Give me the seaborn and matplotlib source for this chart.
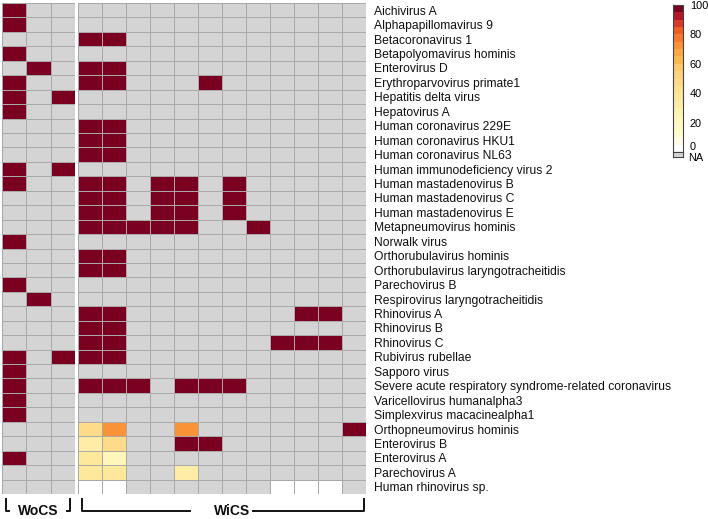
import numpy as np
import pandas as pd
import matplotlib
matplotlib.use("Agg")
import matplotlib.pyplot as plt
import seaborn as sns
from matplotlib.colors import LinearSegmentedColormap

N = np.nan

viruses = [
    "Aichivirus A", "Alphapapillomavirus 9", "Betacoronavirus 1",
    "Betapolyomavirus hominis", "Enterovirus D", "Erythroparvovirus primate1",
    "Hepatitis delta virus", "Hepatovirus A", "Human coronavirus 229E",
    "Human coronavirus HKU1", "Human coronavirus NL63",
    "Human immunodeficiency virus 2", "Human mastadenovirus B",
    "Human mastadenovirus C", "Human mastadenovirus E", "Metapneumovirus hominis",
    "Norwalk virus", "Orthorubulavirus hominis",
    "Orthorubulavirus laryngotracheitidis", "Parechovirus B",
    "Respirovirus laryngotracheitidis", "Rhinovirus A", "Rhinovirus B",
    "Rhinovirus C", "Rubivirus rubellae", "Sapporo virus",
    "Severe acute respiratory syndrome-related coronavirus",
    "Varicellovirus humanalpha3", "Simplexvirus macacinealpha1",
    "Orthopneumovirus hominis", "Enterovirus B", "Enterovirus A",
    "Parechovirus A", "Human rhinovirus sp.",
]

# samples without capture (3 columns), NaN = not detected (NA)
wocs = [
    [100, N, N], [100, N, N], [N, N, N], [100, N, N], [N, 100, N],
    [100, N, N], [100, N, 100], [100, N, N], [N, N, N], [N, N, N],
    [N, N, N], [100, N, 100], [100, N, N], [N, N, N], [N, N, N],
    [N, N, N], [100, N, N], [N, N, N], [N, N, N], [100, N, N],
    [N, 100, N], [N, N, N], [N, N, N], [N, N, N], [100, N, 100],
    [100, N, N], [100, N, N], [100, N, N], [100, N, N], [N, N, N],
    [N, N, N], [100, N, N], [N, N, N], [N, N, N],
]

# samples with capture (12 columns)
wics = [
    [N, N, N, N, N, N, N, N, N, N, N, N],
    [N, N, N, N, N, N, N, N, N, N, N, N],
    [100, 100, N, N, N, N, N, N, N, N, N, N],
    [N, N, N, N, N, N, N, N, N, N, N, N],
    [100, 100, N, N, N, N, N, N, N, N, N, N],
    [100, 100, N, N, N, 100, N, N, N, N, N, N],
    [N, N, N, N, N, N, N, N, N, N, N, N],
    [N, N, N, N, N, N, N, N, N, N, N, N],
    [100, 100, N, N, N, N, N, N, N, N, N, N],
    [100, 100, N, N, N, N, N, N, N, N, N, N],
    [100, 100, N, N, N, N, N, N, N, N, N, N],
    [N, N, N, N, N, N, N, N, N, N, N, N],
    [100, 100, N, 100, 100, N, 100, N, N, N, N, N],
    [100, 100, N, 100, 100, N, 100, N, N, N, N, N],
    [100, 100, N, 100, 100, N, 100, N, N, N, N, N],
    [100, 100, 100, 100, 100, N, N, 100, N, N, N, N],
    [N, N, N, N, N, N, N, N, N, N, N, N],
    [100, 100, N, N, N, N, N, N, N, N, N, N],
    [100, 100, N, N, N, N, N, N, N, N, N, N],
    [N, N, N, N, N, N, N, N, N, N, N, N],
    [N, N, N, N, N, N, N, N, N, N, N, N],
    [100, 100, N, N, N, N, N, N, N, 100, 100, N],
    [100, 100, N, N, N, N, N, N, N, N, N, N],
    [100, 100, N, N, N, N, N, N, 100, 100, 100, N],
    [100, 100, N, N, N, N, N, N, N, N, N, N],
    [N, N, N, N, N, N, N, N, N, N, N, N],
    [100, 100, 100, N, 100, 100, 100, N, N, N, N, N],
    [N, N, N, N, N, N, N, N, N, N, N, N],
    [N, N, N, N, N, N, N, N, N, N, N, N],
    [45, 72, N, N, 72, N, N, N, N, N, N, 100],
    [33, 48, N, N, 100, 100, N, N, N, N, N, N],
    [35, 22, N, N, N, N, N, N, N, N, N, N],
    [35, 38, N, N, 30, N, N, N, N, N, N, N],
    [0, 0, N, N, N, N, N, N, 0, 0, 0, N],
]

cbar_ticks = [0, 20, 40, 60, 80, 100]

df_wocs = pd.DataFrame(wocs, index=viruses)
df_wics = pd.DataFrame(wics, index=viruses)

na_color = "#d4d4d4"
grid_color = "#a9a9a9"
cmap = LinearSegmentedColormap.from_list("heat", [
    (0.0, "#ffffff"), (0.1, "#fffbd2"), (0.25, "#fff4b4"), (0.4, "#fee596"),
    (0.55, "#fdd07a"), (0.65, "#fcb24c"), (0.75, "#f98e35"),
    (0.85, "#ee5a24"), (0.93, "#c41f2b"), (1.0, "#7a0022"),
]).resampled(20)
cmap.set_bad(na_color)

plt.rcParams["font.family"] = ["Liberation Sans", "DejaVu Sans"]
fig = plt.figure(figsize=(7.08, 5.19), dpi=100)
W, H = 708, 519

def px_axes(x0, y0, x1, y1):
    return fig.add_axes([x0 / W, 1 - y1 / H, (x1 - x0) / W, (y1 - y0) / H])

ax1 = px_axes(2, 3, 75, 494)
ax2 = px_axes(78, 3, 366, 494)
cax = px_axes(673, 5, 683, 152)

kw = dict(cmap=cmap, vmin=0, vmax=100, cbar=False, linewidths=0.7,
          linecolor=grid_color, xticklabels=False)
sns.heatmap(df_wocs, ax=ax1, yticklabels=False, **kw)
sns.heatmap(df_wics, ax=ax2, yticklabels=True, **kw)
for ax in (ax1, ax2):
    ax.set_xlabel("")
    ax.set_ylabel("")
    ax.tick_params(length=0)
ax2.yaxis.tick_right()
ax2.set_yticks(np.arange(len(viruses)) + 0.5)
ax2.set_yticklabels(viruses, rotation=0, fontsize=8.7, color="#111111")
ax2.tick_params(axis="y", pad=6)

# colorbar
cb = fig.colorbar(ax2.collections[0], cax=cax, ticks=cbar_ticks)
cb.outline.set_edgecolor("#444444")
cb.outline.set_linewidth(0.8)
cax.tick_params(length=0, labelsize=7.9, pad=5)
for t in cax.get_yticklabels():
    if t.get_text() in ("0", "$\\mathdefault{0}$"):
        t.set_va("bottom")
nax = px_axes(673, 152, 683, 157)
nax.set_facecolor(na_color)
nax.set_xticks([])
nax.set_yticks([])
for s in nax.spines.values():
    s.set_edgecolor("#444444")
    s.set_linewidth(0.8)
fig.text(688 / W, 1 - 158 / H, "NA", fontsize=7.9, va="center", ha="left")

# group brackets under the two panels
def bracket(ax, x0, x1, gap0, gap1, label, lx):
    tr = ax.transAxes
    ytop, ybot = -0.011, -0.035
    style = dict(color="#111111", lw=1.4, transform=tr, clip_on=False)
    ax.plot([x0, x0, gap0], [ytop, ybot, ybot], **style)
    ax.plot([gap1, x1, x1], [ybot, ybot, ytop], **style)
    ax.text(lx, ybot, label, transform=tr, ha="center", va="center",
            fontsize=10, fontweight="bold", color="#111111")

bracket(ax1, 0.055, 0.93, 0.10, 0.89, "WoCS", 0.5)
bracket(ax2, 0.014, 0.993, 0.389, 0.608, "WiCS", 0.535)

fig.savefig("out.png", dpi=100)
